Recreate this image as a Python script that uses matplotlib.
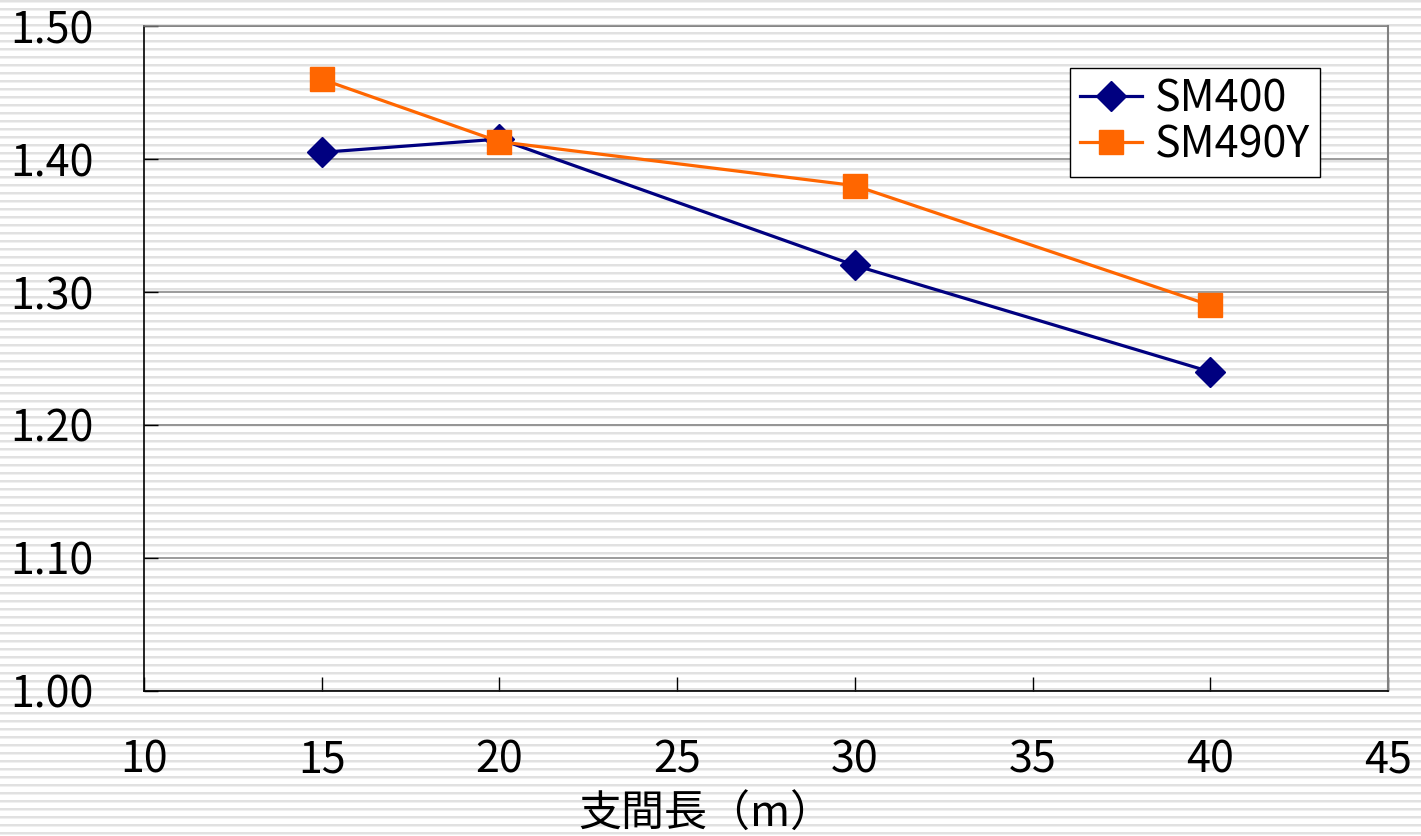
import numpy as np
import matplotlib
matplotlib.use("Agg")
import matplotlib.pyplot as plt

plt.rcParams['font.family'] = ['Noto Sans CJK JP', 'DejaVu Sans']

# data
span = [15, 20, 30, 40]
sm400 = [1.405, 1.415, 1.320, 1.240]
sm490y = [1.460, 1.413, 1.380, 1.290]
x_ticks = [10, 15, 20, 25, 30, 35, 40, 45]
y_ticks = [1.00, 1.10, 1.20, 1.30, 1.40, 1.50]
x_label = "支間長（m）"

W, H = 1421, 836
fig = plt.figure(figsize=(W / 100, H / 100), dpi=100)

# striped background over the whole picture
bg = fig.add_axes([0, 0, 1, 1])
rows = np.arange(H) % 8
pattern = np.where(rows < 2, 0.88, np.where(rows == 2, 0.94, 1.0))
img = np.repeat(pattern[:, None], 4, axis=1)
bg.imshow(img, cmap='gray', vmin=0, vmax=1, aspect='auto', interpolation='nearest')
bg.set_axis_off()

ax = fig.add_axes([144 / W, 1 - 691 / H, (1388 - 144) / W, (691 - 26) / H])
ax.set_facecolor('none')

ax.plot(span, sm400, color='#000080', lw=2.3, marker='D', markersize=15,
        label='SM400', zorder=3)
ax.plot(span, sm490y, color='#FF6600', lw=2.3, marker='s', markersize=17.5,
        label='SM490Y', zorder=4)

ax.set_xlim(10, 45)
ax.set_ylim(1.0, 1.5)
ax.set_xticks(x_ticks)
ax.set_yticks(y_ticks)
ax.set_yticklabels([f"{v:.2f}" for v in y_ticks])
ax.yaxis.grid(True, color='#808080', lw=1.1)
ax.set_axisbelow(True)

for s in ['left', 'bottom']:
    ax.spines[s].set_color('black')
    ax.spines[s].set_linewidth(1.2)
ax.spines['top'].set_color('#808080')
ax.spines['right'].set_color('#808080')
ax.spines['top'].set_linewidth(1.1)
ax.spines['right'].set_linewidth(1.5)

ax.tick_params(axis='both', direction='in', length=10, width=1, color='black',
               labelsize=31)
ax.tick_params(axis='x', pad=34)
ax.tick_params(axis='y', pad=36)

leg = ax.legend(loc='upper right', bbox_to_anchor=(0.945, 0.937), fontsize=31,
                frameon=True, fancybox=False, edgecolor='black', framealpha=1,
                handlelength=1.45, handletextpad=0.3, borderpad=0.22,
                labelspacing=0.05, borderaxespad=0)
leg.get_frame().set_linewidth(1.0)

fig.text(706 / W, 1 - 815 / H, x_label, ha='center', va='center', fontsize=31)

fig.savefig('out.png', dpi=100)
